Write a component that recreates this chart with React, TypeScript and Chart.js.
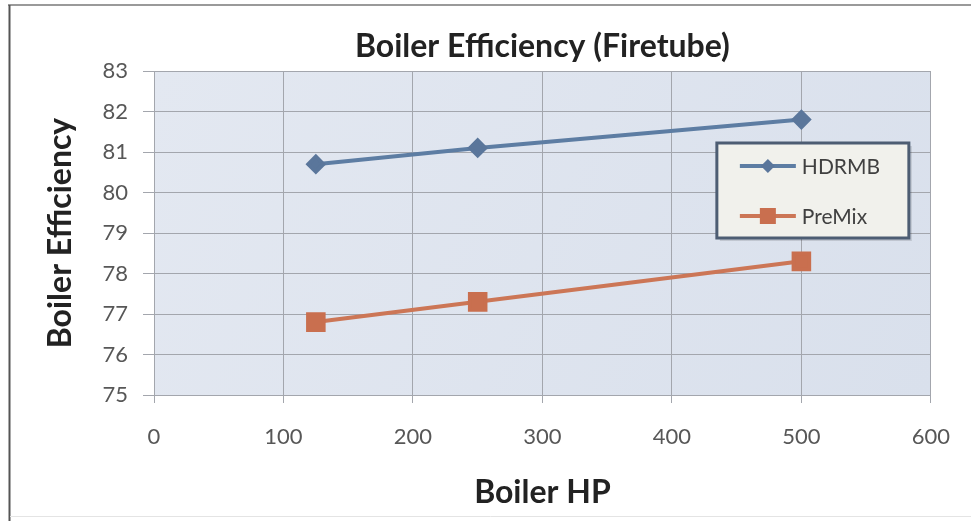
import React, { useEffect, useRef } from "react";
import { Chart, registerables } from "chart.js";

Chart.register(...registerables);

// ---- data ----
const boilerHP = [125, 250, 500];
const hdrmbEfficiency = [80.7, 81.1, 81.8];
const premixEfficiency = [76.8, 77.3, 78.3];
const seriesNames = ["HDRMB", "PreMix"];
const chartTitle = "Boiler Efficiency (Firetube)";
const xAxisTitle = "Boiler HP";
const yAxisTitle = "Boiler Efficiency";
const xRange = [0, 600, 100];
const yRange = [75, 83, 1];

const BLUE = "#5d7da3";
const ORANGE = "#cc7656";
const FONT = "Lato, 'Open Sans', sans-serif";

const backgroundPlugin = {
  id: "bgPlot",
  beforeDraw(chart: any) {
    const { ctx, chartArea: a, width, height } = chart;
    ctx.save();
    ctx.fillStyle = "#ffffff";
    ctx.fillRect(0, 0, width, height);
    const g = ctx.createLinearGradient(a.left, a.top, a.right, a.bottom);
    g.addColorStop(0, "#e3e8f1");
    g.addColorStop(1, "#d9e0ec");
    ctx.fillStyle = g;
    ctx.fillRect(a.left, a.top, a.right - a.left, a.bottom - a.top);
    ctx.restore();
  },
};

const framePlugin = {
  id: "frame",
  afterDraw(chart: any) {
    const { ctx, width, height } = chart;
    ctx.save();
    ctx.strokeStyle = "#9a9a9a";
    ctx.lineWidth = 2;
    ctx.beginPath();
    ctx.moveTo(8, 5);
    ctx.lineTo(width, 5);
    ctx.stroke();
    ctx.strokeStyle = "#555555";
    ctx.beginPath();
    ctx.moveTo(9.5, 5);
    ctx.lineTo(9.5, height);
    ctx.stroke();
    ctx.strokeStyle = "#e4e4e4";
    ctx.lineWidth = 1;
    ctx.beginPath();
    ctx.moveTo(10, 516.5);
    ctx.lineTo(width, 516.5);
    ctx.stroke();
    ctx.restore();
  },
};

const legendBoxPlugin = {
  id: "legendBox",
  afterDraw(chart: any) {
    const { ctx, chartArea: a } = chart;
    const left = a.right - 214;
    const top = a.top + 72;
    const w = 192;
    const h = 95;
    ctx.save();
    ctx.fillStyle = "rgba(0,0,0,0.12)";
    ctx.fillRect(left + 3, top + 3, w, h);
    ctx.fillStyle = "#f1f1ec";
    ctx.fillRect(left, top, w, h);
    ctx.strokeStyle = "#4d5d73";
    ctx.lineWidth = 3;
    ctx.strokeRect(left, top, w, h);
    const rows = [top + 23, top + 73];
    chart.data.datasets.forEach((ds: any, i: number) => {
      const y = rows[i];
      ctx.strokeStyle = ds.borderColor;
      ctx.lineWidth = 4;
      ctx.beginPath();
      ctx.moveTo(left + 23, y);
      ctx.lineTo(left + 79, y);
      ctx.stroke();
      ctx.fillStyle = ds.pointBackgroundColor;
      const cx = left + 51;
      if (ds.pointStyle === "rectRot") {
        ctx.beginPath();
        ctx.moveTo(cx, y - 7);
        ctx.lineTo(cx + 7, y);
        ctx.lineTo(cx, y + 7);
        ctx.lineTo(cx - 7, y);
        ctx.closePath();
        ctx.fill();
      } else {
        ctx.fillRect(cx - 8, y - 8, 16, 16);
      }
      ctx.fillStyle = "#404040";
      ctx.font = `21px ${FONT}`;
      ctx.textAlign = "left";
      ctx.textBaseline = "middle";
      ctx.fillText(ds.label, left + 85, y + 1);
    });
    ctx.restore();
  },
};

export default function App() {
  const ref = useRef<HTMLCanvasElement | null>(null);

  useEffect(() => {
    if (!ref.current) return;
    const toPoints = (ys: number[]) => boilerHP.map((x, i) => ({ x, y: ys[i] }));
    const chart = new Chart(ref.current, {
      type: "line",
      data: {
        datasets: [
          {
            label: seriesNames[0],
            data: toPoints(hdrmbEfficiency),
            borderColor: BLUE,
            backgroundColor: BLUE,
            pointBackgroundColor: "#5a769b",
            pointBorderColor: "#5a769b",
            pointStyle: "rectRot",
            pointRadius: 7.5,
            borderWidth: 4,
            tension: 0,
          },
          {
            label: seriesNames[1],
            data: toPoints(premixEfficiency),
            borderColor: ORANGE,
            backgroundColor: ORANGE,
            pointBackgroundColor: "#c96f4f",
            pointBorderColor: "#c96f4f",
            pointStyle: "rect",
            pointRadius: 11,
            borderWidth: 4,
            tension: 0,
          },
        ],
      },
      options: {
        animation: false,
        responsive: false,
        maintainAspectRatio: false,
        layout: { padding: { left: 0, right: 35, top: 0, bottom: 0 } },
        plugins: {
          legend: { display: false },
          tooltip: { enabled: false },
          title: {
            display: true,
            text: chartTitle,
            fullSize: false,
            color: "#222222",
            font: { family: FONT, size: 32, weight: "bold", lineHeight: 1.2 },
            padding: { top: 27.8, bottom: 4.8 },
          },
        },
        scales: {
          x: {
            type: "linear",
            min: xRange[0],
            max: xRange[1],
            afterFit: (s: any) => {
              s.height = 126;
            },
            ticks: {
              stepSize: xRange[2],
              color: "#575757",
              font: { family: FONT, size: 22 },
              padding: 21,
            },
            grid: { color: "#a3a6ad", lineWidth: 1, tickLength: 8, tickColor: "#a3a6ad" },
            border: { color: "#a3a6ad" },
            title: {
              display: true,
              text: xAxisTitle,
              color: "#222222",
              font: { family: FONT, size: 32, weight: "bold", lineHeight: 1.2 },
              padding: { top: 0, bottom: 8.8 },
            },
          },
          y: {
            min: yRange[0],
            max: yRange[1],
            afterFit: (s: any) => {
              s.width = 154;
            },
            ticks: {
              stepSize: yRange[2],
              color: "#575757",
              font: { family: FONT, size: 22 },
              padding: 15,
            },
            grid: { color: "#a3a6ad", lineWidth: 1, tickLength: 11, tickColor: "#a3a6ad" },
            border: { color: "#a3a6ad" },
            title: {
              display: true,
              text: yAxisTitle,
              color: "#222222",
              font: { family: FONT, size: 32, weight: "bold", lineHeight: 1.2 },
              padding: { top: 41, bottom: 0 },
            },
          },
        },
      },
      plugins: [backgroundPlugin, legendBoxPlugin, framePlugin],
    } as any);
    return () => chart.destroy();
  }, []);

  return (
    <div style={{ position: "fixed", left: 0, top: 0, width: 971, height: 521, background: "#fff" }}>
      <canvas ref={ref} width={971} height={521} style={{ display: "block", width: 971, height: 521 }} />
    </div>
  );
}
